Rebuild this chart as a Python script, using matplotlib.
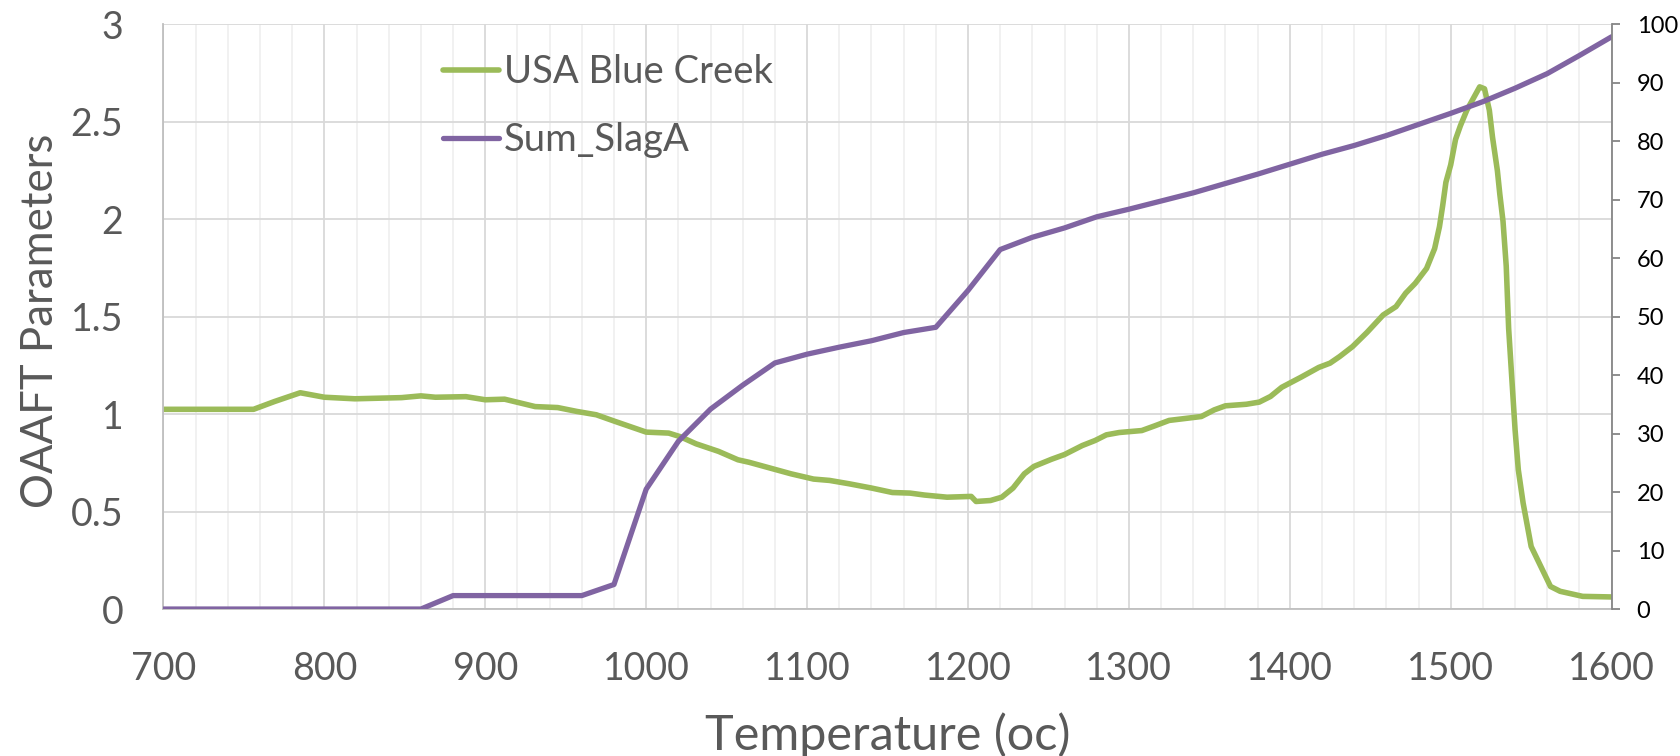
import matplotlib
matplotlib.use("Agg")
import matplotlib.pyplot as plt
from matplotlib.ticker import MultipleLocator, FuncFormatter

plt.rcParams['font.family'] = ['Lato', 'DejaVu Sans']

# OAAFT parameter for the USA Blue Creek sample (left axis)
blue_creek_temp = [700, 756, 769, 785, 800, 819, 848, 860, 869, 888, 900, 912, 931, 945, 957,
                   969, 981, 1000, 1014, 1021, 1031, 1045, 1057, 1064, 1090, 1104, 1114, 1126,
                   1140, 1153, 1164, 1173, 1187, 1202, 1205, 1214, 1221, 1228, 1235, 1241, 1252,
                   1260, 1271, 1279, 1286, 1294, 1308, 1316, 1325, 1333, 1345, 1353, 1360, 1373,
                   1381, 1388, 1395, 1407, 1418, 1425, 1431, 1439, 1448, 1458, 1466, 1472, 1478,
                   1485, 1490, 1493, 1495, 1497, 1500, 1503, 1506, 1510, 1514, 1518, 1521, 1524,
                   1526, 1529, 1530.5, 1532.5, 1534.5, 1536, 1538, 1540, 1542, 1545, 1550, 1554.5,
                   1562, 1568, 1582, 1600]
blue_creek_value = [1.025, 1.025, 1.065, 1.11, 1.087, 1.079, 1.085, 1.094, 1.087, 1.09, 1.074,
                    1.077, 1.039, 1.034, 1.014, 0.997, 0.962, 0.908, 0.903, 0.885, 0.848, 0.809,
                    0.766, 0.753, 0.694, 0.667, 0.660, 0.643, 0.621, 0.598, 0.595, 0.585, 0.574,
                    0.578, 0.552, 0.557, 0.574, 0.621, 0.694, 0.732, 0.769, 0.793, 0.839, 0.865,
                    0.894, 0.906, 0.916, 0.940, 0.968, 0.976, 0.988, 1.022, 1.043, 1.051, 1.062,
                    1.091, 1.138, 1.19, 1.24, 1.262, 1.296, 1.347, 1.42, 1.509, 1.552, 1.621,
                    1.672, 1.748, 1.85, 1.962, 2.07, 2.19, 2.28, 2.41, 2.48, 2.56, 2.62, 2.68,
                    2.67, 2.56, 2.42, 2.25, 2.13, 1.99, 1.76, 1.44, 1.18, 0.92, 0.715, 0.544,
                    0.321, 0.244, 0.116, 0.091, 0.065, 0.062]

# Cumulative slag amount (right axis), every 20 degrees
slag_temp = list(range(700, 1601, 20))
slag_value = [0, 0, 0, 0, 0, 0, 0, 0, 0, 2.3, 2.3, 2.3, 2.3, 2.3, 4.2, 20.5, 28.7, 34.2, 38.3,
              42.1, 43.6, 44.8, 45.9, 47.3, 48.2, 54.5, 61.5, 63.6, 65.2, 67.1, 68.4, 69.8, 71.2,
              72.8, 74.4, 76.1, 77.8, 79.3, 81.0, 82.9, 84.8, 86.8, 89.1, 91.6, 94.7, 97.9]

GREEN = '#9BBB59'
PURPLE = '#8064A2'
TEXT_GRAY = '#595959'

fig = plt.figure(figsize=(16.8, 7.56), dpi=100)
ax = fig.add_axes([0.0973, 0.1944, 0.8620, 0.7732])
ax2 = ax.twinx()

ax.set_xlim(700, 1600)
ax.set_ylim(0, 3)
ax2.set_ylim(0, 100)

ax.xaxis.set_major_locator(MultipleLocator(100))
ax.xaxis.set_minor_locator(MultipleLocator(20))
ax.yaxis.set_major_locator(MultipleLocator(0.5))
ax.yaxis.set_major_formatter(FuncFormatter(lambda v, p: f"{v:g}"))
ax2.yaxis.set_major_locator(MultipleLocator(10))

ax.grid(which='major', axis='both', color='#D9D9D9', linewidth=1.3, zorder=0)
ax.grid(which='minor', axis='x', color='#F0F0F0', linewidth=1.3, zorder=0)
ax.set_axisbelow(True)

for side in ('top', 'right'):
    ax.spines[side].set_visible(False)
for side in ('left', 'bottom'):
    ax.spines[side].set_color('#BFBFBF')
    ax.spines[side].set_linewidth(1.3)
for side in ('top', 'left', 'bottom'):
    ax2.spines[side].set_visible(False)
ax2.spines['right'].set_color('#868686')
ax2.spines['right'].set_linewidth(1.3)

ax.tick_params(axis='both', which='both', length=0)
ax.tick_params(axis='y', labelsize=27, labelcolor=TEXT_GRAY, pad=29)
ax.tick_params(axis='x', labelsize=27, labelcolor=TEXT_GRAY, pad=30)
ax2.tick_params(axis='y', labelsize=17, labelcolor='black', color='#868686',
                length=6, width=1.3, pad=12, direction='out')

line1, = ax.plot(blue_creek_temp, blue_creek_value, color=GREEN, linewidth=4.0,
                 solid_joinstyle='round', solid_capstyle='round', label='USA Blue Creek')
line2, = ax2.plot(slag_temp, slag_value, color=PURPLE, linewidth=3.8,
                  solid_joinstyle='round', solid_capstyle='round', label='Sum_SlagA')

ax2.legend(handles=[line1, line2], loc='upper left', bbox_to_anchor=(0.193, 0.949),
           frameon=False, fontsize=27.5, handlelength=1.47, handletextpad=0.13,
           labelspacing=0.83, borderpad=0, borderaxespad=0, labelcolor=TEXT_GRAY)

fig.text(0.5283, 0.028, 'Temperature (oc)', ha='center', va='center', fontsize=35,
         color=TEXT_GRAY)
fig.text(0.0244, 0.575, 'OAAFT Parameters', ha='center', va='center', rotation=90,
         fontsize=31.5, color=TEXT_GRAY)

fig.savefig('out.png', dpi=100)
